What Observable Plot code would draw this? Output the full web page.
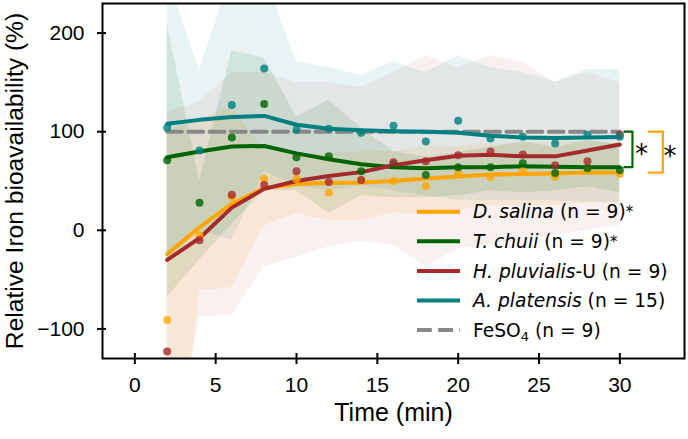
<!DOCTYPE html>
<html>
<head>
<meta charset="utf-8">
<script src="https://cdn.jsdelivr.net/npm/d3@7"></script>
<script src="https://cdn.jsdelivr.net/npm/@observablehq/plot@0.6"></script>
<style>
  html, body { margin: 0; padding: 0; background: #fff; }
  #chart { width: 688px; height: 439px; }
</style>
</head>
<body>
<div id="chart"></div>
<script>
// Sampling times (min)
const time = [2, 4, 6, 8, 10, 12, 14, 16, 18, 20, 22, 24, 26, 28, 30];

// D. salina: per-time means, smoothed trend, spread band
const salinaMean  = [-91, -5, 34, 52, 52, 38, 51, 50, 45, 59, 54, 60, 54, 61, 57];
const salinaTrend = [-24, 3, 27, 43, 47, 48, 48.5, 50, 52.5, 54.5, 56.5, 57, 57.5, 58.5, 58.5];
const salinaLow   = [-400, -61, -58, 5, 17, 10, 10, 18, 15, 20, 25, 25, 25, 28, 28];
const salinaHigh  = [101, 113, 125, 81, 77, 78, 80, 80, 85, 85, 87, 88, 90, 90, 88];

// T. chuii
const chuiiMean  = [71, 28, 94, 128, 74, 75, 60, 67, 56, 64, 64, 68, 58, 63, 61];
const chuiiTrend = [74, 80, 85, 85.5, 78, 72, 67, 64, 63, 64, 64, 65, 64.5, 64, 64];
const chuiiLow   = [-68, -30, 6, 40, 40, 17, 35, 33, 33, 35, 40, 38, 40, 44, 38];
const chuiiHigh  = [210, 50, 182, 175, 115, 132, 104, 80, 74, 79, 84, 90, 84, 91, 87];

// H. pluvialis-U
const pluvialisMean  = [-123, -10, 36, 46, 60, 49, 51, 69, 70, 76, 80, 77, 66, 70, 97];
const pluvialisTrend = [-30, -8, 23, 42, 50, 55, 59, 66, 71, 75.5, 76.5, 75, 75, 81, 87];
const pluvialisLow   = [-240, -88, -86, -37, -27, -17, -11, -15, -37, -19, -15, -10, -5, 0, 5];
const pluvialisHigh  = [120, 130, 160, 160, 150, 150, 145, 160, 177, 165, 177, 170, 150, 160, 150];

// A. platensis
const platensisMean  = [104, 81, 127, 164, 102, 103, 99, 106, 90, 111, 93, 95, 88, 97, 95];
const platensisTrend = [108, 112, 115, 116, 107, 103, 101.5, 100.5, 100, 99, 96, 94, 93.5, 94, 94.5];
const platensisLow   = [-30, 0, -10, 60, 45, 40, 45, 40, 35, 30, 30, 30, 30, 28, 28];
const platensisHigh  = [260, 162, 260, 260, 171, 165, 157, 171, 160, 177, 165, 160, 151, 163, 163];

// FeSO4 reference level (%)
const fesoLevel = 100;

// Legend text
const speciesNames = ["D. salina", "T. chuii", "H. pluvialis", "A. platensis"];
const speciesSuffix = [" (n = 9)", " (n = 9)", "-U (n = 9)", " (n = 15)"];
const speciesStar = ["*", "*", "", ""];

// Axis ticks and labels
const xTicks = [0, 5, 10, 15, 20, 25, 30];
const yTicks = [-100, 0, 100, 200];
const xLabel = "Time (min)";
const yLabel = "Relative Iron bioavailability (%)";

// ---- assemble series ----
const palette = ["#FFA500", "#006400", "#A52A2A", "#008080"];
const bandOpacity = [0.11, 0.1, 0.07, 0.09];
const raw = [
  [salinaMean, salinaTrend, salinaLow, salinaHigh],
  [chuiiMean, chuiiTrend, chuiiLow, chuiiHigh],
  [pluvialisMean, pluvialisTrend, pluvialisLow, pluvialisHigh],
  [platensisMean, platensisTrend, platensisLow, platensisHigh]
];
const series = raw.map(([mean, trend, lo, hi], k) => ({
  name: speciesNames[k],
  color: palette[k],
  band: bandOpacity[k],
  rows: time.map((t, i) => ({t, mean: mean[i], trend: trend[i], lo: lo[i], hi: hi[i]}))
}));
const fesoRows = time.map(t => ({t, v: fesoLevel}));

// significance brackets (FeSO4 level vs. final trend value of the starred series)
const lastT = time[time.length - 1];
const brackets = [
  {trend: chuiiTrend, color: palette[1], x0: lastT + 0.28, x1: lastT + 0.78, xs: lastT + 1.34},
  {trend: salinaTrend, color: palette[0], x0: lastT + 1.8, x1: lastT + 2.66, xs: lastT + 3.1}
].map(b => {
  const end = b.trend[b.trend.length - 1];
  return {
    color: b.color,
    path: [{x: b.x0, y: fesoLevel}, {x: b.x1, y: fesoLevel}, {x: b.x1, y: end}, {x: b.x0, y: end}],
    star: {x: b.xs, y: (fesoLevel + end) / 2}
  };
});

const marks = [];
for (const s of series) {
  marks.push(Plot.areaY(s.rows, {x: "t", y1: "lo", y2: "hi", fill: s.color, fillOpacity: s.band, clip: true}));
}
marks.push(Plot.line(fesoRows, {x: "t", y: "v", stroke: "#888", strokeWidth: 4, strokeDasharray: "14.8,6.4"}));
for (const s of series) {
  marks.push(Plot.line(s.rows, {x: "t", y: "trend", stroke: s.color, strokeWidth: 4}));
}
for (const s of series) {
  marks.push(Plot.dot(s.rows, {x: "t", y: "mean", r: 4, fill: s.color, fillOpacity: 0.8, stroke: "none"}));
}
for (const b of brackets) {
  marks.push(Plot.line(b.path, {x: "x", y: "y", stroke: b.color, strokeWidth: 2.2}));
  marks.push(Plot.text([b.star], {x: "x", y: "y", text: () => "*", fontSize: 26, fontFamily: "DejaVu Sans", fill: "black", lineAnchor: "middle", dy: 5}));
}
// axes: crossing tick marks, then tick labels, then the x title
marks.push(
  Plot.axisX(xTicks, {tickSize: 11, dy: -5, tickFormat: () => "", label: null, strokeWidth: 2}),
  Plot.axisY(yTicks, {tickSize: 9, dx: 4, tickFormat: () => "", label: null, strokeWidth: 2}),
  Plot.axisX(xTicks, {tickSize: 0, tickPadding: 19, fontSize: 21, label: null}),
  Plot.axisY(yTicks, {tickSize: 0, tickPadding: 18, fontSize: 21, label: null}),
  Plot.text([xLabel], {frameAnchor: "bottom", dy: 62, lineAnchor: "bottom", fontSize: 25, text: d => d}),
  Plot.frame({stroke: "black", strokeWidth: 2})
);

const chart = Plot.plot({
  width: 688,
  height: 439,
  marginLeft: 102,
  marginRight: 4,
  marginTop: 3,
  marginBottom: 81,
  style: {fontFamily: "Liberation Sans, Arial, sans-serif", background: "white", color: "black"},
  x: {domain: [-2, 34]},
  y: {domain: [-130, 230]},
  marks
});

const svg = d3.select(chart);

// rotated y title, centred on the panel height
svg.append("text")
  .attr("transform", "translate(23,181) rotate(-90)")
  .attr("text-anchor", "middle")
  .attr("font-family", "Liberation Sans, Arial, sans-serif")
  .attr("font-size", 24.6)
  .attr("fill", "black")
  .text(yLabel);

// legend inside the lower-right of the panel
const legend = svg.append("g")
  .attr("font-family", "DejaVu Sans, sans-serif")
  .attr("font-size", 18.67)
  .attr("text-anchor", "start")
  .attr("fill", "black");
const entries = series.map((s, k) => ({color: s.color, dash: null, italic: speciesNames[k], rest: speciesSuffix[k], star: speciesStar[k]}));
entries.push({color: "#888", dash: "14.8,6.4", feso: true});
entries.forEach((e, i) => {
  const y0 = 211.7 + 29.6 * i;
  legend.append("line")
    .attr("x1", 417).attr("x2", 460).attr("y1", y0).attr("y2", y0)
    .attr("stroke", e.color).attr("stroke-width", 4)
    .attr("stroke-dasharray", e.dash);
  const t = legend.append("text").attr("x", 473).attr("y", y0 + 6.7);
  if (e.feso) {
    t.append("tspan").text("FeSO");
    t.append("tspan").attr("font-size", 13).attr("dy", 4).text("4");
    t.append("tspan").attr("dy", -4).text(" (n = 9)");
  } else {
    t.append("tspan").attr("font-style", "italic").text(e.italic);
    t.append("tspan").text(e.rest);
    if (e.star) t.append("tspan").attr("font-size", 15).attr("dy", -1.5).text(e.star);
  }
});

document.getElementById("chart").appendChild(chart);
</script>
</body>
</html>
